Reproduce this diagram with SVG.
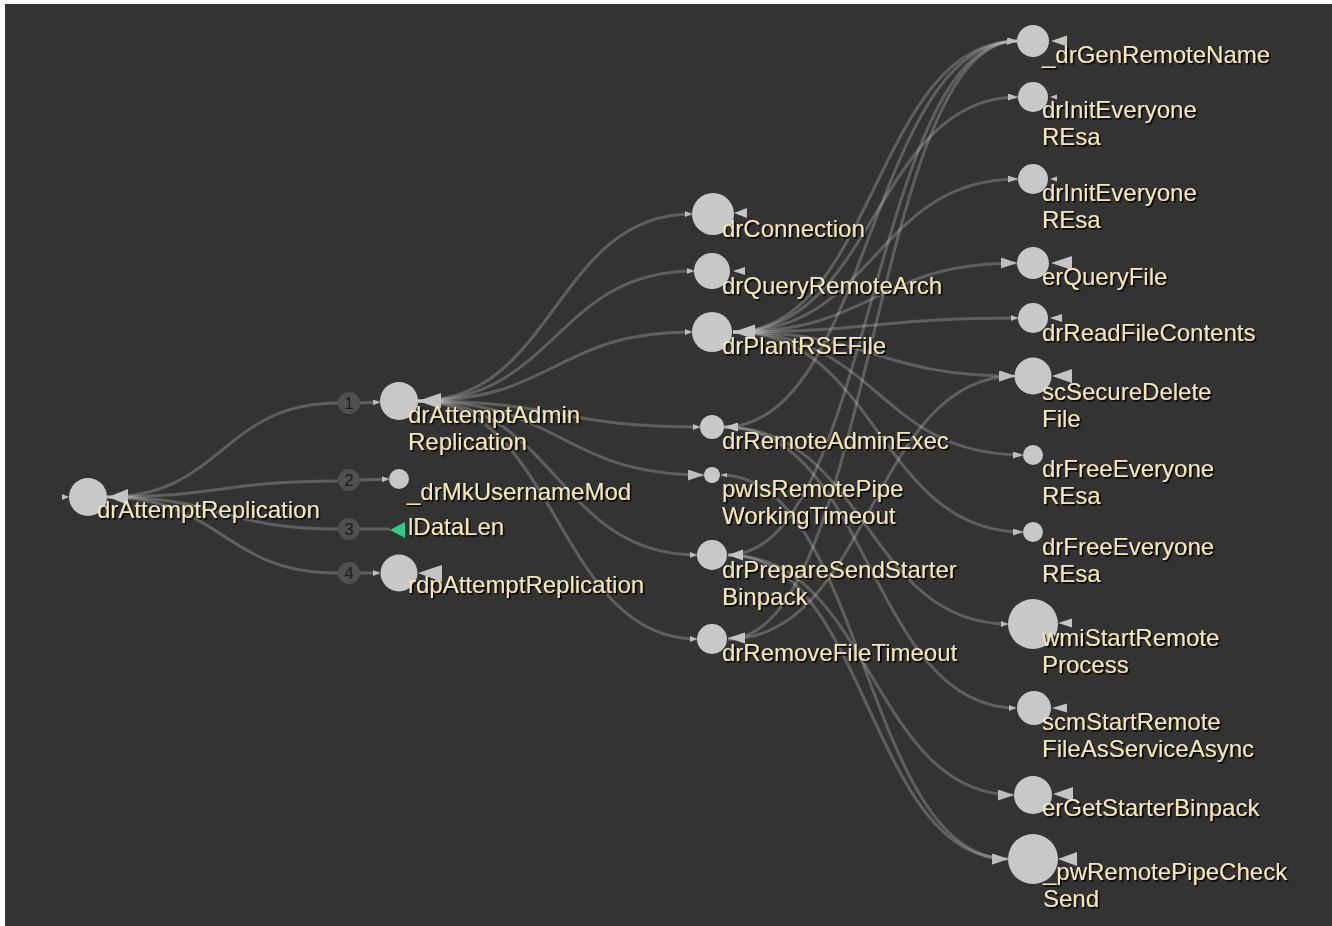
<svg xmlns="http://www.w3.org/2000/svg" width="1332" height="926" viewBox="0 0 1332 926">
<style>
.bg{fill:#333333}
.e{fill:none;stroke:#ffffff;stroke-opacity:.22;stroke-width:3}
.ah{fill:#bdbdbd}
.n{fill:#c8c8c8}
.t{fill:#c4c4c4}
.lb{font-family:"Liberation Sans",Arial,sans-serif;font-size:24px;fill:#f6e6b4;filter:url(#sh)}
.bd{fill:#505050}
.bt{font-family:"Liberation Sans",Arial,sans-serif;font-size:17px;fill:#1c1c1c;text-anchor:middle}
</style>
<defs>
<filter id="sh" x="-5%" y="-20%" width="110%" height="150%"><feDropShadow dx="1.6" dy="1.6" stdDeviation="0.6" flood-color="#000" flood-opacity="0.95"/></filter>
<marker id="aS" viewBox="0 0 7 6" refX="7" refY="3" markerWidth="7" markerHeight="6" markerUnits="userSpaceOnUse" orient="auto"><path d="M0,0L7,3L0,6z" class="ah"/></marker>
<marker id="aM" viewBox="0 0 10 7" refX="10" refY="3.5" markerWidth="10" markerHeight="7" markerUnits="userSpaceOnUse" orient="auto"><path d="M0,0L10,3.5L0,7z" class="ah"/></marker>
<marker id="aL" viewBox="0 0 16 11" refX="16" refY="5.5" markerWidth="16" markerHeight="11" markerUnits="userSpaceOnUse" orient="auto"><path d="M0,0L16,5.5L0,11z" class="ah"/></marker>
</defs>
<rect x="0" y="0" width="1332" height="926" fill="#ffffff"/>
<rect x="5" y="4" width="1327" height="922" class="bg"/>

<g id="connectors">
<path class="e" d="M107,497 C222,497 222,403 338,403"/>
<path class="e" d="M107,497 C222,497 222,481 338,481"/>
<path class="e" d="M107,497 C222,497 222,529 338,529"/>
<path class="e" d="M107,497 C222,497 222,573 338,573"/>
<path class="e" d="M360,403 L380,402" marker-end="url(#aS)"/>
<path class="e" d="M360,480 L389,479" marker-end="url(#aS)"/>
<path class="e" d="M360,529 L390,529"/>
<path class="e" d="M360,573 L380,573" marker-end="url(#aS)"/>
<polygon class="ah" points="62,494 69,497 62,500"/>

<path class="e" d="M418,401 C555,401 555,214 692,214" marker-end="url(#aS)"/>
<path class="e" d="M418,401 C556,401 556,271 694,271" marker-end="url(#aS)"/>
<path class="e" d="M418,401 C555,401 555,332 692,332" marker-end="url(#aS)"/>
<path class="e" d="M418,401 C559,401 559,427 700,427" marker-end="url(#aS)"/>
<path class="e" d="M418,401 C561,401 561,475 704,475" marker-end="url(#aL)"/>
<path class="e" d="M418,401 C557,401 557,555 697,555" marker-end="url(#aS)"/>
<path class="e" d="M418,401 C557,401 557,639 697,639" marker-end="url(#aS)"/>

<path class="e" d="M733,332 C875,332 875,41 1017,41" marker-end="url(#aM)"/>
<path class="e" d="M733,332 C875,332 875,97 1018,97" marker-end="url(#aM)"/>
<path class="e" d="M733,332 C875,332 875,179 1018,179" marker-end="url(#aM)"/>
<path class="e" d="M733,332 C875,332 875,263 1017,263" marker-end="url(#aL)"/>
<path class="e" d="M733,332 C875,332 875,318 1018,318" marker-end="url(#aS)"/>
<path class="e" d="M733,332 C874,332 874,376 1015,376" marker-end="url(#aL)"/>
<path class="e" d="M733,332 C878,332 878,455 1023,455" marker-end="url(#aM)"/>
<path class="e" d="M733,332 C878,332 878,532 1023,532" marker-end="url(#aM)"/>

<path class="e" d="M724,427 C870,427 870,41 1017,41" marker-end="url(#aM)"/>
<path class="e" d="M724,427 C866,427 866,624 1008,624" marker-end="url(#aS)"/>
<path class="e" d="M724,427 C870,427 870,708 1016,708" marker-end="url(#aS)"/>

<path class="e" d="M721,475 C864,475 864,859 1008,859" marker-end="url(#aL)"/>

<path class="e" d="M728,555 C872,555 872,41 1017,41" marker-end="url(#aM)"/>
<path class="e" d="M728,555 C871,555 871,795 1014,795" marker-end="url(#aL)"/>
<path class="e" d="M728,555 C868,555 868,859 1008,859" marker-end="url(#aL)"/>

<path class="e" d="M728,639 C872,639 872,41 1017,41" marker-end="url(#aM)"/>
<path class="e" d="M728,639 C871,639 871,376 1015,376" marker-end="url(#aL)"/>
</g>

<g id="badges">
<circle class="bd" cx="349" cy="403" r="11"/><text class="bt" x="349" y="409">1</text>
<circle class="bd" cx="349" cy="480" r="11"/><text class="bt" x="349" y="486">2</text>
<circle class="bd" cx="349" cy="529" r="11"/><text class="bt" x="349" y="535">3</text>
<circle class="bd" cx="349" cy="573" r="11"/><text class="bt" x="349" y="579">4</text>
</g>

<g id="n-drAttemptReplication">
<circle class="n" cx="88" cy="497" r="19"/>
<polygon class="t" points="108,497 128,489 128,505"/>
<text class="lb" x="97" y="518">drAttemptReplication</text>
</g>

<g id="n-drAttemptAdminReplication">
<circle class="n" cx="399" cy="401" r="19"/>
<polygon class="t" points="418,401 441,393 441,409"/>
<text class="lb" x="408" y="423">drAttemptAdmin</text>
<text class="lb" x="408" y="450">Replication</text>
</g>

<g id="n-_drMkUsernameMod">
<circle class="n" cx="399" cy="479" r="10"/>
<text class="lb" x="407" y="500">_drMkUsernameMod</text>
</g>

<g id="n-lDataLen">
<polygon fill="#2fcc8e" points="390,530 405,522 405,538"/>
<text class="lb" x="408" y="535">lDataLen</text>
</g>

<g id="n-rdpAttemptReplication">
<circle class="n" cx="399" cy="573" r="18.5"/>
<polygon class="t" points="418,573 442,565 442,582"/>
<text class="lb" x="408" y="593">rdpAttemptReplication</text>
</g>

<g id="n-drConnection">
<circle class="n" cx="713" cy="214" r="21"/>
<polygon class="t" points="734,213 747,208 747,218"/>
<text class="lb" x="722" y="237">drConnection</text>
</g>

<g id="n-drQueryRemoteArch">
<circle class="n" cx="712" cy="271" r="18"/>
<polygon class="t" points="733,271 745,267 745,275"/>
<text class="lb" x="722" y="294">drQueryRemoteArch</text>
</g>

<g id="n-drPlantRSEFile">
<circle class="n" cx="712" cy="332" r="20"/>
<polygon class="t" points="733,332 755,324.5 755,339.5"/>
<text class="lb" x="722" y="354">drPlantRSEFile</text>
</g>

<g id="n-drRemoteAdminExec">
<circle class="n" cx="712" cy="427" r="12"/>
<polygon class="t" points="724,427 738,422.5 738,431.5"/>
<text class="lb" x="722" y="449">drRemoteAdminExec</text>
</g>

<g id="n-pwIsRemotePipeWorkingTimeout">
<circle class="n" cx="712" cy="475" r="8"/>
<polygon class="t" points="721,475 727,473 727,477"/>
<text class="lb" x="722" y="497">pwIsRemotePipe</text>
<text class="lb" x="722" y="524">WorkingTimeout</text>
</g>

<g id="n-drPrepareSendStarterBinpack">
<circle class="n" cx="712" cy="555" r="15"/>
<polygon class="t" points="728,555 743,549.5 743,560.5"/>
<text class="lb" x="722" y="578">drPrepareSendStarter</text>
<text class="lb" x="722" y="605">Binpack</text>
</g>

<g id="n-drRemoveFileTimeout">
<circle class="n" cx="712" cy="639" r="15"/>
<polygon class="t" points="728,638 745,632.5 745,643.5"/>
<text class="lb" x="722" y="661">drRemoveFileTimeout</text>
</g>

<g id="n-_drGenRemoteName">
<circle class="n" cx="1033" cy="41" r="16"/>
<polygon class="t" points="1051,41 1067,35.5 1067,46.5"/>
<text class="lb" x="1042" y="63">_drGenRemoteName</text>
</g>

<g id="n-drInitEveryoneREsa-1">
<circle class="n" cx="1033" cy="97" r="15"/>
<polygon class="t" points="1050,97 1057,94.5 1057,99.5"/>
<text class="lb" x="1042" y="118">drInitEveryone</text>
<text class="lb" x="1042" y="145">REsa</text>
</g>

<g id="n-drInitEveryoneREsa-2">
<circle class="n" cx="1033" cy="179" r="15"/>
<polygon class="t" points="1050,179 1057,176.5 1057,181.5"/>
<text class="lb" x="1042" y="201">drInitEveryone</text>
<text class="lb" x="1042" y="228">REsa</text>
</g>

<g id="n-erQueryFile">
<circle class="n" cx="1033" cy="263" r="16"/>
<polygon class="t" points="1051,263 1072,256 1072,270"/>
<text class="lb" x="1042" y="285">erQueryFile</text>
</g>

<g id="n-drReadFileContents">
<circle class="n" cx="1033" cy="318" r="15"/>
<polygon class="t" points="1050,318 1062,314 1062,322"/>
<text class="lb" x="1042" y="341">drReadFileContents</text>
</g>

<g id="n-scSecureDeleteFile">
<circle class="n" cx="1033" cy="376" r="18.5"/>
<polygon class="t" points="1052,376 1072,369 1072,383"/>
<text class="lb" x="1042" y="400">scSecureDelete</text>
<text class="lb" x="1042" y="427">File</text>
</g>

<g id="n-drFreeEveryoneREsa-1">
<circle class="n" cx="1033" cy="455" r="10"/>
<text class="lb" x="1042" y="477">drFreeEveryone</text>
<text class="lb" x="1042" y="504">REsa</text>
</g>

<g id="n-drFreeEveryoneREsa-2">
<circle class="n" cx="1033" cy="532" r="10"/>
<text class="lb" x="1042" y="555">drFreeEveryone</text>
<text class="lb" x="1042" y="582">REsa</text>
</g>

<g id="n-wmiStartRemoteProcess">
<circle class="n" cx="1033" cy="624" r="25"/>
<polygon class="t" points="1058,623 1072,618.5 1072,627.5"/>
<text class="lb" x="1042" y="646">wmiStartRemote</text>
<text class="lb" x="1042" y="673">Process</text>
</g>

<g id="n-scmStartRemoteFileAsServiceAsync">
<circle class="n" cx="1034" cy="708" r="17"/>
<polygon class="t" points="1052,708 1067,703.5 1067,712.5"/>
<text class="lb" x="1042" y="730">scmStartRemote</text>
<text class="lb" x="1042" y="757">FileAsServiceAsync</text>
</g>

<g id="n-erGetStarterBinpack">
<circle class="n" cx="1033" cy="795" r="19"/>
<polygon class="t" points="1053,794 1073,787 1073,801"/>
<text class="lb" x="1042" y="816">erGetStarterBinpack</text>
</g>

<g id="n-_pwRemotePipeCheckSend">
<circle class="n" cx="1033" cy="859" r="25"/>
<polygon class="t" points="1058,859 1077,852 1077,866"/>
<text class="lb" x="1043" y="880">_pwRemotePipeCheck</text>
<text class="lb" x="1043" y="907">Send</text>
</g>
</svg>
